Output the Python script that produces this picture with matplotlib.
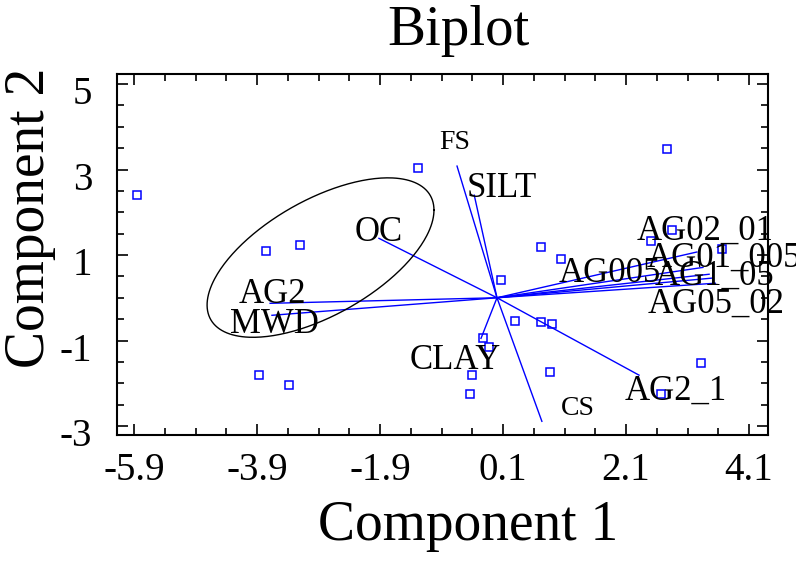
import numpy as np
import matplotlib.pyplot as plt
import matplotlib.transforms as mtransforms
from matplotlib.ticker import MultipleLocator, FixedLocator

plt.rcParams["font.family"] = ["Liberation Serif", "DejaVu Serif"]

# ----------------------------------
# Data
# ----------------------------------

# observation scores
score_x = [-5.85, -1.28, -3.75, -3.20, -3.87, -3.38, 2.77, 2.85, 2.51, 3.66,
           0.72, 1.04, 0.07, 0.30, 0.72, 0.90, -0.23, -0.13, -0.40, -0.44,
           0.86, 3.32, 2.67]
score_y = [2.40, 3.03, 1.09, 1.23, -1.81, -2.05, 3.48, 1.58, 1.32, 1.14,
           1.18, 0.90, 0.41, -0.55, -0.57, -0.62, -0.93, -1.16, -1.81, -2.24,
           -1.74, -1.53, -2.26]

# variable loadings (vector end points)
var_names = ["FS", "SILT", "OC", "AG2", "MWD", "CLAY", "CS", "AG2_1",
             "AG02_01", "AG01_005", "AG005", "AG1_05", "AG05_02"]
var_x = [-0.65, -0.37, -1.92, -3.69, -3.66, -0.26, 0.73, 2.31,
         3.25, 3.35, 3.45, 3.50, 3.55]
var_y = [3.08, 2.40, 1.39, -0.13, -0.41, -0.95, -2.89, -1.81,
         1.07, 0.71, 0.55, 0.46, 0.34]

# where each variable name is written
label_x = [-0.68, 0.08, -1.93, -3.66, -3.62, -0.68, 1.32, 2.90,
           3.38, 3.69, 1.84, 3.53, 3.56]
label_y = [3.64, 2.56, 1.53, 0.08, -0.62, -1.46, -2.59, -2.19,
           1.56, 0.93, 0.57, 0.50, -0.15]
small_labels = ["FS", "CS"]

xticks = [-5.9, -3.9, -1.9, 0.1, 2.1, 4.1]
yticks = [5, 3, 1, -1, -3]

# ellipse around the left group
ell_cx, ell_cy = -2.87, 0.94
ell_a, ell_b = 1.845, 1.865
ell_phi = np.deg2rad(53.5)

# ----------------------------------
# Plot
# ----------------------------------

fig = plt.figure(figsize=(7.96, 5.62), dpi=100)
ax = fig.add_axes([0.147, 0.226, 0.818, 0.642])

for name, vx, vy in zip(var_names, var_x, var_y):
    ax.plot([0, vx], [0, vy], color="blue", lw=1.0)

for name, lx, ly in zip(var_names, label_x, label_y):
    size = 20 if name in small_labels else 25
    ax.text(lx, ly, name, fontsize=size, ha="center", va="center")

ax.plot(score_x, score_y, "s", ms=6, mfc="none", mec="blue", mew=1.1,
        linestyle="none")

t = np.linspace(0, 2 * np.pi, 300)
ax.plot(ell_cx + ell_a * np.cos(t), ell_cy + ell_b * np.cos(t - ell_phi),
        color="black", lw=1.0)

ax.set_xlim(-6.18, 4.41)
ax.set_ylim(-3.21, 5.23)

ax.xaxis.set_major_locator(FixedLocator(xticks))
ax.yaxis.set_major_locator(FixedLocator(yticks))
ax.xaxis.set_minor_locator(FixedLocator(np.arange(-5.9, 4.4, 0.5)))
ax.yaxis.set_minor_locator(MultipleLocator(0.5))
ax.set_xticklabels([f"{v:.1f}" for v in xticks])
ax.set_yticklabels([str(v) for v in yticks])

ax.tick_params(which="both", direction="in", top=True, right=True,
               labelsize=28, width=1.2)
ax.tick_params(which="major", length=8)
ax.tick_params(which="minor", length=5)
ax.tick_params(axis="x", which="major", pad=12)
ax.tick_params(axis="y", which="major", pad=18)
for sp in ax.spines.values():
    sp.set_linewidth(1.5)

# y tick labels sit a little below their ticks in the original
shift = mtransforms.ScaledTranslation(0, -6 / 100, fig.dpi_scale_trans)
for lab in ax.get_yticklabels():
    lab.set_transform(lab.get_transform() + shift)

ax.set_xlabel("Component 1", fontsize=40, va="baseline")
ax.set_ylabel("Component 2", fontsize=40, va="baseline")
ax.xaxis.set_label_coords(0.539, -0.291)
ax.yaxis.set_label_coords(-0.112, 0.601)

fig.text(458 / 796, 1 - 45 / 562, "Biplot", fontsize=41, ha="center",
         va="baseline")

fig.savefig("out.png", dpi=100)
